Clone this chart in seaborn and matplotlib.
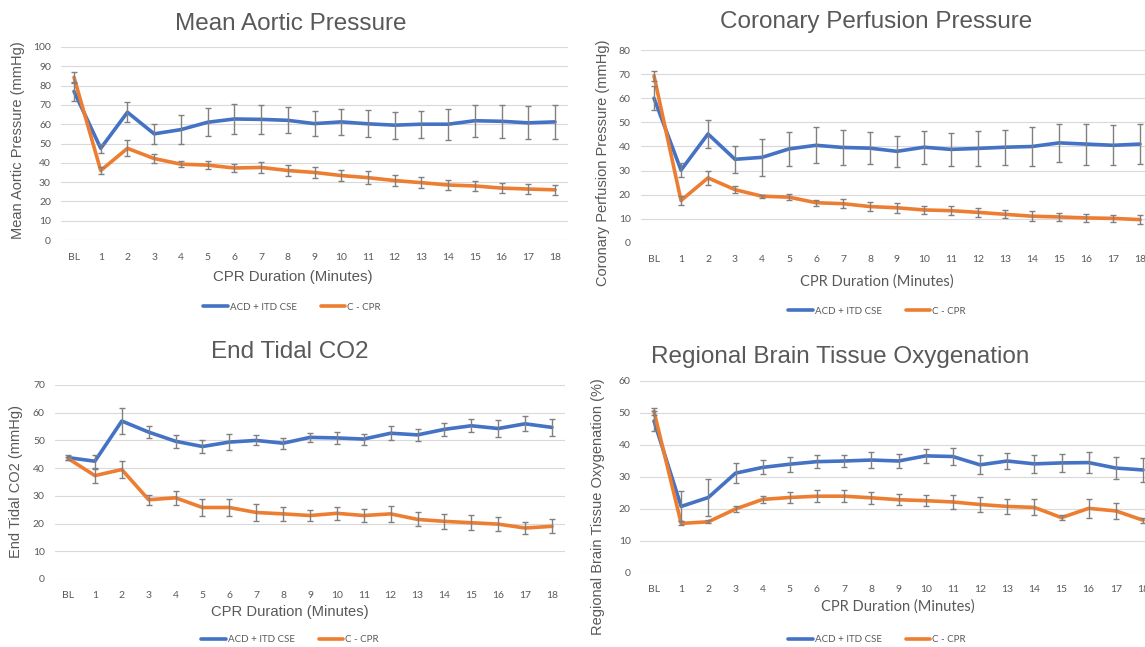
import numpy as np
import pandas as pd
import matplotlib
matplotlib.use("Agg")
import matplotlib.pyplot as plt
import seaborn as sns

# ---------------- data ----------------
categories = ["BL"] + [str(i) for i in range(1, 19)]
groups = ["ACD + ITD CSE", "C - CPR"]

map_acd = [77, 47.5, 66.2, 55, 57.2, 61, 62.7, 62.5, 62, 60.3, 61.2, 60.2, 59.5, 60, 60, 61.8, 61.5, 60.7, 61.2]
map_acd_err = [5, 2.5, 5.3, 5.3, 7.5, 7.2, 7.8, 7.7, 6.8, 6.5, 6.8, 7, 7, 7, 8, 8.2, 8.5, 8.5, 8.7]
map_cpr = [84.3, 36, 47.5, 42.2, 39.3, 38.8, 37.3, 37.6, 36, 35, 33.4, 32.3, 30.8, 29.7, 28.5, 28, 26.9, 26.4, 26]
map_cpr_err = [3, 2, 4.2, 2.3, 1.5, 2, 2, 3, 2.8, 2.7, 3, 3.2, 2.8, 2.8, 2.8, 2.7, 2.6, 2.6, 2.7]

cpp_acd = [60, 30.2, 45.2, 34.7, 35.5, 39, 40.5, 39.6, 39.3, 38, 39.7, 38.8, 39.2, 39.7, 40, 41.5, 41, 40.5, 41]
cpp_acd_err = [5, 3, 5.7, 5.5, 7.6, 7, 7.5, 7.3, 6.7, 6.3, 6.8, 6.8, 7.2, 7.3, 8, 8, 8.5, 8.3, 8.3]
cpp_cpr = [69.3, 17.6, 27, 22.1, 19.4, 19, 16.7, 16.3, 15.1, 14.6, 13.7, 13.4, 12.7, 11.9, 11.1, 10.8, 10.4, 10.2, 9.7]
cpp_cpr_err = [2, 1.8, 3, 1.5, 0.7, 1.3, 1.2, 1.8, 2, 2, 1.8, 2, 1.8, 1.7, 2, 1.8, 1.6, 1.5, 1.8]

etco2_acd = [43.8, 42.5, 57, 53, 49.7, 47.8, 49.4, 50, 49, 51.1, 50.9, 50.5, 52.6, 52, 54, 55.3, 54.3, 56, 54.7]
etco2_acd_err = [0.8, 2.3, 4.8, 2.3, 2.3, 2.2, 2.9, 1.8, 2, 1.7, 2.2, 2, 2.5, 2.2, 2.3, 2.4, 3, 2.7, 3]
etco2_cpr = [43.5, 37.3, 39.5, 28.6, 29.3, 25.8, 25.8, 24, 23.5, 22.9, 23.7, 22.9, 23.5, 21.5, 20.8, 20.3, 19.8, 18.4, 19]
etco2_cpr_err = [0.5, 2.5, 3, 1.8, 2.6, 3.2, 3.2, 3, 2.6, 2, 2.4, 2.4, 2.8, 2.5, 2.6, 2.7, 2.5, 2, 2.5]

rso2_acd = [47.5, 20.8, 23.6, 31.2, 33, 34, 34.8, 35, 35.3, 35, 36.6, 36.4, 33.8, 35, 34.1, 34.4, 34.5, 32.8, 32.2]
rso2_acd_err = [3.2, 4.7, 5.7, 3.2, 2.2, 2.3, 2.1, 2, 2.5, 2.2, 2.2, 2.8, 3, 2.5, 2.7, 2.8, 3.2, 3.5, 3.8]
rso2_cpr = [50.5, 15.5, 16, 20, 23, 23.6, 24, 24, 23.5, 22.9, 22.6, 22.2, 21.4, 20.8, 20.5, 17.3, 20.2, 19.4, 16.5]
rso2_cpr_err = [1, 0.6, 0.5, 1, 1.2, 1.6, 1.8, 1.8, 1.8, 1.8, 1.8, 2.2, 2.3, 2.4, 2.5, 0.8, 2.9, 2.5, 0.8]

titles = ["Mean Aortic Pressure", "Coronary Perfusion Pressure",
          "End Tidal CO2", "Regional Brain Tissue Oxygenation"]
ylabels = ["Mean Aortic Pressure (mmHg)", "Coronary Perfusion Pressure (mmHg)",
           "End Tidal CO2 (mmHg)", "Regional Brain Tissue Oxygenation (%)"]
xlabel = "CPR Duration (Minutes)"
ymax = [100, 80, 70, 60]

# ---------------- style ----------------
sns.set_theme(style="white")
plt.rcParams["font.family"] = ["Liberation Sans", "DejaVu Sans"]

W, H = 1145, 647
fig = plt.figure(figsize=(W / 100, H / 100), dpi=100)
fig.patch.set_facecolor("white")

def fx(x):
    return x / W

def fy(y):
    return 1 - y / H

palette = {groups[0]: "#4472C4", groups[1]: "#ED7D31"}
textc = "#595959"

# layout per panel (pixels): x of BL, x of 18, y of top tick, y of 0
panels = [
    dict(xb=74, xe=555, yt=47, y0=240, data=(map_acd, map_acd_err, map_cpr, map_cpr_err),
         title=(291, 24), ylab=(18, 140), xlab=(293, 277), leg=(292, 307),
         xfont=["Liberation Sans", "DejaVu Sans"], xsize=10.8),
    dict(xb=654, xe=1140, yt=50, y0=243, data=(cpp_acd, cpp_acd_err, cpp_cpr, cpp_cpr_err),
         title=(876, 22), ylab=(603, 163), xlab=(877, 282), leg=(877, 311),
         xfont=["Lato", "DejaVu Sans"], xsize=10.5),
    dict(xb=68, xe=552, yt=385, y0=579, data=(etco2_acd, etco2_acd_err, etco2_cpr, etco2_cpr_err),
         title=(290, 352), ylab=(16, 482), xlab=(290, 612), leg=(290, 640),
         xfont=["Liberation Sans", "DejaVu Sans"], xsize=10.6),
    dict(xb=654, xe=1143, yt=381, y0=573, data=(rso2_acd, rso2_acd_err, rso2_cpr, rso2_cpr_err),
         title=(840, 357), ylab=(598, 507), xlab=(898, 607), leg=(877, 640),
         xfont=["Lato", "DejaVu Sans"], xsize=10.5),
]

xpos = np.arange(len(categories))

for i, p in enumerate(panels):
    step = (p["xe"] - p["xb"]) / 18
    left = p["xb"] - step / 2
    right = p["xe"] + step / 2
    ax = fig.add_axes([fx(left), fy(p["y0"]), (right - left) / W, (p["y0"] - p["yt"]) / H])
    ax.set_facecolor("white")
    a, ae, c, ce = p["data"]
    df = pd.DataFrame({
        "x": np.concatenate([xpos, xpos]),
        "value": a + c,
        "group": [groups[0]] * len(a) + [groups[1]] * len(c),
    })
    sns.lineplot(data=df, x="x", y="value", hue="group", palette=palette,
                 linewidth=2.6, ax=ax, legend=False, zorder=3)
    for vals, errs in ((a, ae), (c, ce)):
        ax.errorbar(xpos, vals, yerr=errs, fmt="none", ecolor="#808080",
                    elinewidth=1.0, capsize=2.5, capthick=1.0, zorder=4)
    ax.set_xlim(-0.5, 18.5)
    ax.set_ylim(0, ymax[i])
    ax.set_yticks(np.arange(0, ymax[i] + 1, 10))
    ax.set_xticks(xpos)
    ax.set_xticklabels(categories)
    ax.tick_params(axis="y", length=0, labelsize=7.5, labelcolor=textc, pad=7)
    ax.tick_params(axis="x", length=0, labelsize=7.5, labelcolor=textc, pad=9)
    ax.yaxis.grid(True, color="#d9d9d9", linewidth=0.8)
    ax.xaxis.grid(False)
    for s in ax.spines.values():
        s.set_visible(False)
    ax.set_xlabel("")
    ax.set_ylabel("")
    for lab in ax.get_xticklabels() + ax.get_yticklabels():
        lab.set_fontfamily(["Lato", "DejaVu Sans"])

    fig.text(fx(p["title"][0]), fy(p["title"][1]), titles[i], fontsize=17.5,
             color=textc, ha="center", va="center")
    fig.text(fx(p["ylab"][0]), fy(p["ylab"][1]), ylabels[i], fontsize=10.5,
             color=textc, ha="center", va="center", rotation=90)
    fig.text(fx(p["xlab"][0]), fy(p["xlab"][1]), xlabel, fontsize=p["xsize"],
             color=textc, ha="center", va="center", family=p["xfont"])

    handles = [plt.Line2D([], [], color=palette[g], linewidth=2.6) for g in groups]
    leg = ax.legend(handles, groups, loc="center", ncol=2, frameon=False,
                    bbox_to_anchor=(fx(p["leg"][0]), fy(p["leg"][1])),
                    bbox_transform=fig.transFigure,
                    prop={"family": ["Lato", "DejaVu Sans"], "size": 7},
                    handlelength=2.5, handletextpad=0.2, columnspacing=2.5)
    for t in leg.get_texts():
        t.set_color(textc)

fig.savefig("out.png", dpi=100, facecolor="white")
